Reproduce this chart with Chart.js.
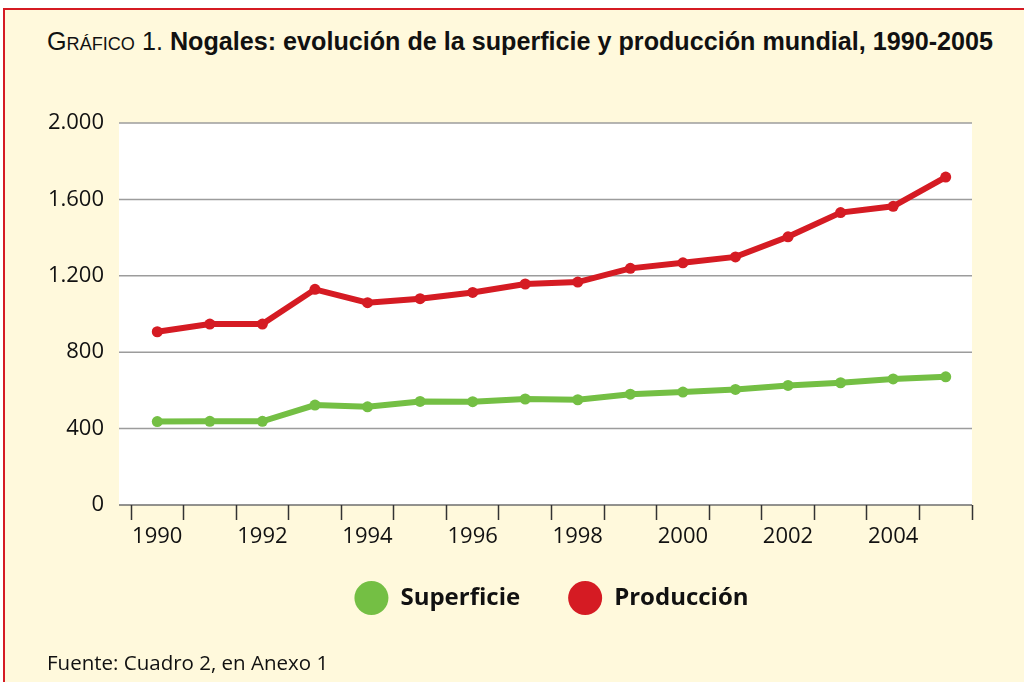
<!DOCTYPE html>
<html lang="es">
<head>
<meta charset="utf-8">
<script src="https://cdn.jsdelivr.net/npm/chart.js@4.4.0/dist/chart.umd.min.js"></script>
<style>
  html, body { margin: 0; padding: 0; background: #fff; }
  body { width: 1024px; height: 682px; position: relative; overflow: hidden; }
  .frame {
    position: absolute; left: 3px; top: 8px; width: 1040px; height: 700px;
    background: #fff9dc; border-left: 2px solid #d51b23; border-top: 2px solid #d51b23;
  }
  .title {
    position: absolute; left: 47px; top: 27px; white-space: nowrap;
    font-family: "Liberation Sans", sans-serif;
    font-size: 25px; color: #111; transform-origin: 0 50%;
  }
  .title .lbl { font-variant: small-caps; }
  .title b { font-weight: bold; }
  .note {
    position: absolute; left: 47px; top: 648px; white-space: nowrap;
    font-family: "Open Sans", sans-serif; font-size: 20.5px; color: #111;
  }
  .wrap { position: absolute; left: 0; top: 0; width: 1024px; height: 682px; }
</style>
</head>
<body>
<div class="frame"></div>
<div class="title" id="title"><span class="lbl">Gráfico 1.</span> <b>Nogales: evolución de la superficie y producción mundial, 1990-2005</b></div>
<div class="wrap"><canvas id="chart"></canvas></div>
<div class="note">Fuente: Cuadro 2, en Anexo 1</div>
<script>
  // ---------- data ----------
  const years = ["1990", "1991", "1992", "1993", "1994", "1995", "1996", "1997",
                 "1998", "1999", "2000", "2001", "2002", "2003", "2004", "2005"];
  const superficie = [437, 438, 438, 523, 514, 542, 541, 555, 551, 580, 591, 605, 626, 640, 660, 671];
  const produccion = [907, 947, 947, 1129, 1059, 1080, 1113, 1157, 1167, 1239, 1268, 1299, 1404, 1531, 1564, 1717];
  const yTicks = [0, 400, 800, 1200, 1600, 2000];

  const RED = "#d51b23";
  const GREEN = "#74bf44";

  // squeeze the title into the width the condensed original uses
  const title = document.getElementById("title");
  title.style.transform = "scaleX(" + (946 / title.getBoundingClientRect().width) + ")";

  const fmtThousands = (v) => String(v).replace(/\B(?=(\d{3})+(?!\d))/g, ".");

  // white plot background + horizontal grid, reaching a bit left of the x scale
  const plotBack = {
    id: "plotBack",
    afterLayout(chart) {
      // centre the legend under the plot area and pull it up a little, like the original
      const lg = chart.legend;
      if (lg) {
        lg.left = chart.chartArea.left;
        lg.right = chart.chartArea.right;
        lg.width = lg.right - lg.left;
        lg.top -= 27;
        lg.bottom -= 27;
      }
    },
    beforeDraw(chart) {
      const { ctx, chartArea: a, scales: { y } } = chart;
      const left = a.left - 12;
      ctx.save();
      ctx.fillStyle = "#fff";
      ctx.fillRect(left, a.top, a.right - left, a.bottom - a.top);
      ctx.lineWidth = 1.5;
      yTicks.forEach((t) => {
        const py = y.getPixelForValue(t);
        ctx.strokeStyle = t === 0 ? "#6e6e6e" : "#9c9c9c";
        ctx.beginPath();
        ctx.moveTo(left, py);
        ctx.lineTo(a.right, py);
        ctx.stroke();
      });
      ctx.restore();
    },
  };

  new Chart(document.getElementById("chart"), {
    type: "line",
    data: {
      labels: years,
      datasets: [
        {
          label: "Superficie",
          data: superficie,
          borderColor: GREEN,
          backgroundColor: GREEN,
          borderWidth: 6,
          pointRadius: 5.5,
          pointBorderWidth: 0,
          tension: 0,
        },
        {
          label: "Producción",
          data: produccion,
          borderColor: RED,
          backgroundColor: RED,
          borderWidth: 6,
          pointRadius: 5.5,
          pointBorderWidth: 0,
          tension: 0,
        },
      ],
    },
    options: {
      responsive: true,
      maintainAspectRatio: false,
      animation: false,
      layout: { padding: { top: 123, right: 52, bottom: 35, left: 0 } },
      scales: {
        x: {
          type: "category",
          offset: true,
          border: { display: false },
          grid: {
            display: true,
            offset: true,
            drawOnChartArea: false,
            tickLength: 15,
            tickWidth: 1.5,
            tickColor: "#333",
          },
          ticks: {
            autoSkip: false,
            maxRotation: 0,
            padding: 4,
            color: "#111",
            font: { family: "Open Sans", size: 22 },
            callback: function (val, i) {
              return i % 2 === 0 ? this.getLabelForValue(val) : "";
            },
          },
          afterFit: (s) => { s.height = 60; },
        },
        y: {
          min: 0,
          max: 2000,
          border: { display: false },
          grid: { display: false, drawTicks: false },
          afterBuildTicks: (s) => { s.ticks = yTicks.map((v) => ({ value: v })); },
          ticks: {
            padding: 27,
            color: "#111",
            font: { family: "Open Sans", size: 22 },
            callback: (v) => fmtThousands(v),
          },
          afterFit: (s) => { s.width = 131; },
        },
      },
      plugins: {
        legend: {
          position: "bottom",
          labels: {
            usePointStyle: true,
            pointStyle: "circle",
            pointStyleWidth: 34,
            padding: 48,
            color: "#111",
            font: { family: "Open Sans", size: 24, weight: "bold" },
          },
        },
        tooltip: { enabled: false },
      },
    },
    plugins: [plotBack],
  });
</script>
</body>
</html>
